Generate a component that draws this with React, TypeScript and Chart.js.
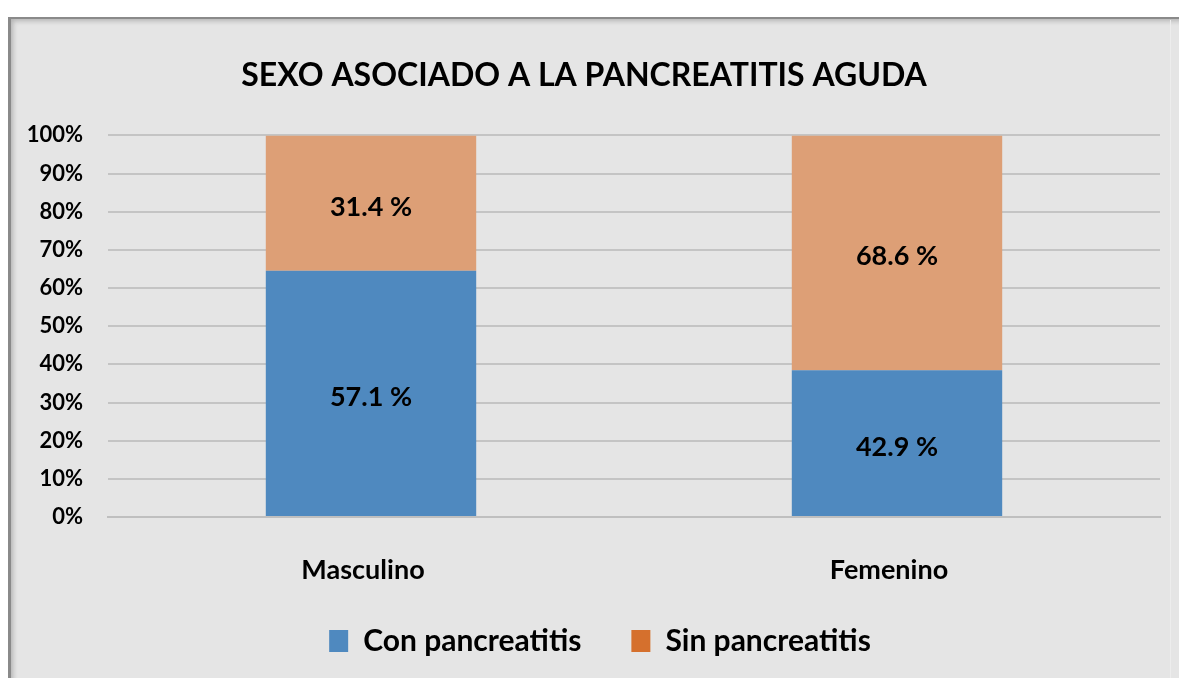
import React, { useEffect, useRef } from "react";
import { Chart, registerables } from "chart.js";

Chart.register(...registerables);

const categories = ["Masculino", "Femenino"];
const conPancreatitis = [57.1, 42.9];
const sinPancreatitis = [31.4, 68.6];
const seriesNames = ["Con pancreatitis", "Sin pancreatitis"];
const yTicks = [0, 10, 20, 30, 40, 50, 60, 70, 80, 90, 100];
const titleText = "SEXO ASOCIADO A LA PANCREATITIS AGUDA";

const FONT = "Lato, 'Open Sans', sans-serif";
const BLUE = "#4F89BF";
const ORANGE_BAR = "#DD9F76";
const ORANGE_LEGEND = "#D5702D";

const toPct = (a: number[], b: number[]) => a.map((v, i) => (v / (v + b[i])) * 100);

const dataLabelPlugin = {
  id: "dataLabels",
  afterDatasetsDraw(chart: any) {
    const ctx = chart.ctx;
    ctx.save();
    ctx.font = `bold 27px ${FONT}`;
    ctx.fillStyle = "#000";
    ctx.textAlign = "center";
    ctx.textBaseline = "middle";
    chart.data.datasets.forEach((ds: any, di: number) => {
      const meta = chart.getDatasetMeta(di);
      meta.data.forEach((el: any, i: number) => {
        const raw = ds.rawValues[i];
        const y = (el.y + el.base) / 2 + 4;
        ctx.fillText(`${raw.toFixed(1)} %`, el.x, y);
      });
    });
    ctx.restore();
  },
};

const legendShiftPlugin = {
  id: "legendShift",
  afterLayout(chart: any) {
    if (chart.legend) {
      chart.legend.left += 16;
      chart.legend.right += 16;
      chart.legend.top -= 11;
      chart.legend.bottom -= 11;
    }
  },
};

export default function App() {
  const ref = useRef<HTMLCanvasElement>(null);
  useEffect(() => {
    if (!ref.current) return;
    const chart = new Chart(ref.current, {
      type: "bar",
      data: {
        labels: categories,
        datasets: [
          {
            label: seriesNames[0],
            data: toPct(conPancreatitis, sinPancreatitis),
            rawValues: conPancreatitis,
            backgroundColor: BLUE,
            borderWidth: 0,
            barPercentage: 1,
            categoryPercentage: 0.4,
          } as any,
          {
            label: seriesNames[1],
            data: toPct(sinPancreatitis, conPancreatitis),
            rawValues: sinPancreatitis,
            backgroundColor: ORANGE_BAR,
            borderWidth: 0,
            barPercentage: 1,
            categoryPercentage: 0.4,
          } as any,
        ],
      },
      options: {
        responsive: false,
        animation: false,
        layout: { padding: { left: 0, right: 19, top: 0, bottom: 1 } },
        scales: {
          x: {
            stacked: true,
            grid: { display: false, drawTicks: false },
            border: { display: true, color: "#BFBFBF", width: 2 },
            ticks: {
              color: "#000",
              font: { family: FONT, size: 27, weight: "bold" },
              padding: 37,
              labelOffset: -8,
            },
            afterFit: (s: any) => { s.height = 70; },
          },
          y: {
            stacked: true,
            min: 0,
            max: 100,
            afterBuildTicks: (s: any) => { s.ticks = yTicks.map((v) => ({ value: v })); },
            grid: { color: "#C4C4C4", lineWidth: 2, drawTicks: false },
            border: { display: false },
            ticks: {
              color: "#000",
              font: { family: FONT, size: 22, weight: "bold" },
              padding: 25,
              callback: (v: any) => `${v}%`,
            },
            afterFit: (s: any) => { s.width = 100; },
          },
        },
        plugins: {
          title: {
            display: true,
            text: titleText,
            color: "#000",
            font: { family: FONT, size: 32, weight: "bold" },
            padding: { top: 39, bottom: 41 },
          },
          legend: {
            position: "bottom",
            labels: {
              color: "#000",
              font: { family: FONT, size: 30, weight: "bold" },
              boxWidth: 19,
              boxHeight: 22,
              padding: 50,
              generateLabels: () =>
                seriesNames.map((n, i) => ({
                  text: n,
                  fillStyle: i === 0 ? BLUE : ORANGE_LEGEND,
                  strokeStyle: "transparent",
                  lineWidth: 0,
                  datasetIndex: i,
                  hidden: false,
                })),
            },
          },
          tooltip: { enabled: false },
        },
      },
      plugins: [dataLabelPlugin, legendShiftPlugin],
    } as any);
    return () => chart.destroy();
  }, []);

  return (
    <div>
      <div
        style={{
          position: "absolute",
          left: 8,
          top: 17,
          width: 1171,
          height: 661,
          boxSizing: "border-box",
          background: "#E5E5E5",
          borderTop: "2px solid #8A8A8A",
          borderLeft: "3px solid #8A8A8A",
          boxShadow: "inset 4px 4px 5px -2px rgba(0,0,0,0.22)",
        }}
      />
      <div
        style={{
          position: "absolute",
          left: 1170,
          top: 20,
          width: 1,
          height: 658,
          background: "#EDEDED",
        }}
      />
      <canvas
        ref={ref}
        width={1171}
        height={661}
        style={{ position: "absolute", left: 8, top: 17, width: 1171, height: 661 }}
      />
    </div>
  );
}
